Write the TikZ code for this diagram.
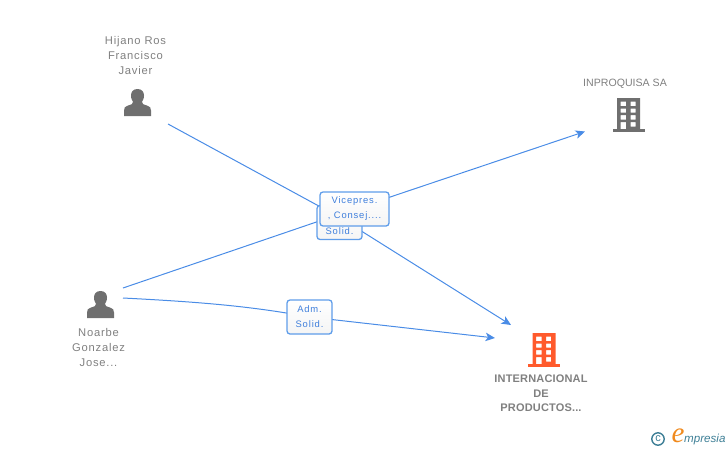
\documentclass[tikz,border=0pt]{standalone}
\usepackage{fontspec}
\setmainfont{Liberation Sans}
\newfontfamily\namefont[LetterSpace=7]{Liberation Sans}
\newfontfamily\capsfont[LetterSpace=0]{Liberation Sans}
\newfontfamily\boldfont[LetterSpace=1.5]{Liberation Sans}
\newfontfamily\tagfont[LetterSpace=9]{Liberation Sans}
\newfontfamily\logofont{Liberation Sans}
\newfontfamily\logoserif{Liberation Serif}
\usetikzlibrary{arrows.meta,backgrounds}
\definecolor{linkblue}{HTML}{4A8CE6}
\definecolor{boxblue}{HTML}{5F9DEA}
\definecolor{tagblue}{HTML}{3F7FDC}
\definecolor{iconGray}{HTML}{6F6F6F}
\definecolor{textGray}{HTML}{808080}
\definecolor{accent}{HTML}{FF5A2C}
\definecolor{logoTeal}{HTML}{3E7F96}
\definecolor{logoOrange}{HTML}{F08A1E}
\tikzset{
  x=1pt,y=-1pt,
  name label/.style={text=textGray,align=center,inner sep=0pt,font=\namefont\fontsize{11.2}{15}\selectfont},
  caps label/.style={text=textGray,align=center,inner sep=0pt,font=\capsfont\fontsize{10.6}{15}\selectfont},
  bold label/.style={text=textGray,align=center,inner sep=0pt,font=\boldfont\bfseries\fontsize{11}{14.7}\selectfont},
  tag/.style={draw=boxblue,line width=1.3pt,rounded corners=3pt,top color=white,bottom color=black!4,text=tagblue,align=center,inner sep=0pt,font=\tagfont\fontsize{9.4}{15}\selectfont},
  link/.style={draw=linkblue,line width=1pt},
  arrowed/.style={-{Stealth[length=9.5pt,width=8.5pt,inset=2.5pt]}},
  pics/person/.style={code={
    \fill[iconGray] (0,-13.5) .. controls (4.5,-13.5) and (6.5,-10.5) .. (6.5,-7)
      .. controls (6.5,-3.5) and (5,-2) .. (4.5,-0.5) .. controls (4.5,1.5) and (6,2) .. (9.5,3)
      .. controls (12.5,4) and (13.5,5) .. (13.5,8) -- (13.5,13.5) -- (-13.5,13.5) -- (-13.5,8)
      .. controls (-13.5,5) and (-12.5,4) .. (-9.5,3) .. controls (-6,2) and (-4.5,1.5) .. (-4.5,-0.5)
      .. controls (-5,-2) and (-6.5,-3.5) .. (-6.5,-7) .. controls (-6.5,-10.5) and (-4.5,-13.5) .. (0,-13.5) -- cycle;
  }},
  pics/building/.style={code={
    \fill[#1,even odd rule] (-11.5,0) rectangle (11.5,32)
      (-8,3.5) rectangle (-2.5,8) (2,3.5) rectangle (7,8)
      (-8,10.5) rectangle (-2.5,14.5) (2,10.5) rectangle (7,14.5)
      (-8,17) rectangle (-2.5,21.5) (2,17) rectangle (7,21.5)
      (-8,24) rectangle (-2.5,32) (2,24) rectangle (7,28.5);
    \fill[#1] (-16,31) rectangle (16,34);
  }}
}
\begin{document}
\begin{tikzpicture}
\useasboundingbox (0,0) rectangle (728,450);
% icons
\pic at (137.5,102.5) {person};
\pic at (100.5,304.5) {person};
\pic at (628.5,98) {building=iconGray};
\pic at (544,333) {building=accent};
% names
\node[name label] (hijano) at (135.5,55) {Hijano Ros\\Francisco\\Javier};
\node[name label] (noarbe) at (98.5,347.5) {Noarbe\\Gonzalez\\Jose...};
\node[caps label] (inproquisa) at (625,84) {INPROQUISA SA};
\node[bold label] (internacional) at (541,393.5) {INTERNACIONAL\\DE\\PRODUCTOS...};
% connector ends
\coordinate (hijanoEnd) at (168,124);
\coordinate (hijanoBend) at (339,217);
\coordinate (noarbeUp) at (123,288);
\coordinate (noarbeLow) at (123,298);
\coordinate (inproEnd) at (585,131.5);
\coordinate (interUp) at (511,325);
\coordinate (interLow) at (495,338);
% labels
\node[tag,minimum width=45pt,minimum height=34pt,text depth=0pt] (solidTag) at (339.5,222.5) {\\[9pt]Solid.};
\node[tag,minimum width=69pt,minimum height=34pt] (viceTag) at (354.5,209) {Vicepres.\\, Consej....};
\node[tag,minimum width=45pt,minimum height=34pt] (admTag) at (309.5,317) {Adm.\\Solid.};
% connectors
\begin{pgfonlayer}{background}
\draw[link,arrowed] (hijanoEnd) -- (hijanoBend) -- (interUp);
\draw[link,arrowed] (noarbeUp) -- (viceTag.center) -- (inproEnd);
\draw[link,arrowed] (noarbeLow) .. controls (200,302) and (250,306) .. (admTag.center) -- (interLow);
\end{pgfonlayer}
% logo
\draw[logoTeal,line width=1.4pt] (658,439) circle (6.2);
\node[inner sep=0pt,text=logoTeal] (copyright) at (658,438.5) {\logofont\fontsize{11}{11}\selectfont c};
\node[inner sep=0pt,text=logoOrange] (logoE) at (678,436) {\logoserif\itshape\fontsize{29}{29}\selectfont e};
\node[inner sep=0pt,text=logoTeal,anchor=west] (logoWord) at (684,439.5) {\logofont\itshape\fontsize{11.6}{12}\selectfont mpresia};
\end{tikzpicture}
\end{document}
